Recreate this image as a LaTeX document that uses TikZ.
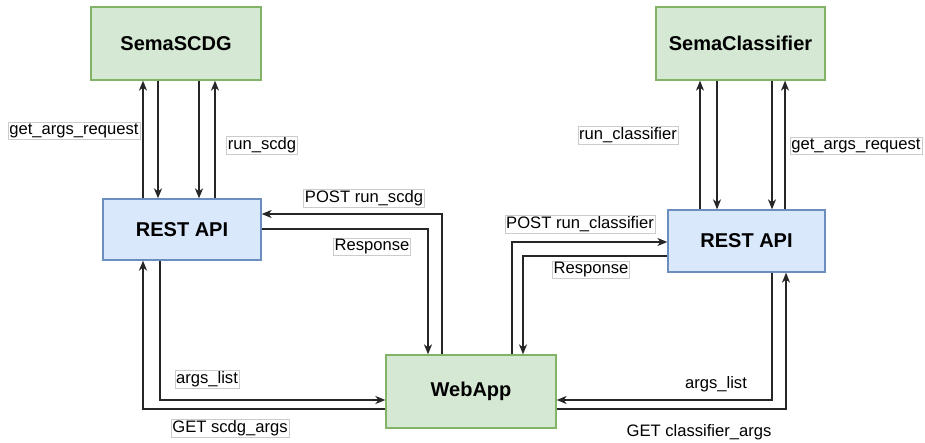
\documentclass[tikz,border=0pt]{standalone}
\usepackage{fontspec}
\setmainfont{Liberation Sans}
\usetikzlibrary{arrows.meta}
\definecolor{gfill}{HTML}{D5E8D4}
\definecolor{gline}{HTML}{82B366}
\definecolor{bfill}{HTML}{DAE8FC}
\definecolor{bline}{HTML}{6C8EBF}
\definecolor{wire}{HTML}{262626}
\tikzset{
  gbox/.style={draw=gline,fill=gfill,line width=1.3pt,minimum height=73pt,inner sep=0pt,font=\fontsize{20}{24}\selectfont\bfseries},
  bbox/.style={draw=bline,fill=bfill,line width=1.3pt,inner sep=0pt,font=\fontsize{20}{24}\selectfont\bfseries},
  wirearrow/.style={draw=wire,line width=1.3pt,-{Stealth[length=10pt,width=8pt,inset=3pt]}},
  lbl/.style={draw=black!20,fill=white,line width=0.6pt,inner sep=1.2pt,font=\fontsize{16.6}{19}\selectfont},
  lblplain/.style={inner sep=1.2pt,font=\fontsize{16.6}{19}\selectfont},
}
\begin{document}
\begin{tikzpicture}[x=1pt,y=-1pt]
\useasboundingbox[fill=white] (0,0) rectangle (925,443);
% boxes
\node[gbox,minimum width=170pt] (scdg) at (176,43.5) {SemaSCDG};
\node[gbox,minimum width=169pt] (scc) at (740.5,43.5) {SemaClassifier};
\node[bbox,minimum width=158pt,minimum height=61pt] (restL) at (182,229.5) {REST API};
\node[bbox,minimum width=157pt,minimum height=62pt] (restR) at (746.5,241) {REST API};
\node[gbox,minimum width=170pt] (web) at (471,391.5) {WebApp};
% left top
\draw[wirearrow] (restL.north -| 143,0) -- (scdg.south -| 143,0);
\draw[wirearrow] (scdg.south -| 158,0) -- (restL.north -| 158,0);
\draw[wirearrow] (scdg.south -| 199,0) -- (restL.north -| 199,0);
\draw[wirearrow] (restL.north -| 215,0) -- (scdg.south -| 215,0);
\node[lbl] (l1) at (74,131) {get\_args\_request};
\node[lbl] (l2) at (262,145) {run\_scdg};
% right top
\draw[wirearrow] (restR.north -| 700,0) -- (scc.south -| 700,0);
\draw[wirearrow] (scc.south -| 717,0) -- (restR.north -| 717,0);
\draw[wirearrow] (scc.south -| 772,0) -- (restR.north -| 772,0);
\draw[wirearrow] (restR.north -| 785,0) -- (scc.south -| 785,0);
\node[lbl] (l3) at (628,135) {run\_classifier};
\node[lbl] (l4) at (856,146) {get\_args\_request};
% middle left
\draw[wirearrow] (web.north -| 442,0) |- (restL.east |- 0,214);
\draw[wirearrow] (restL.east |- 0,229) -| (web.north -| 428,0);
\node[lbl] (l5) at (364,198) {POST run\_scdg};
\node[lbl] (l6) at (372,247) {Response};
% bottom left
\draw[wirearrow] (restL.south -| 160,0) |- (web.west |- 0,400);
\draw[wirearrow] (web.west |- 0,409) -| (restL.south -| 143,0);
\node[lbl] (l7) at (207,379) {args\_list};
\node[lbl] (l8) at (230,428) {GET scdg\_args};
% middle right
\draw[wirearrow] (web.north -| 512,0) |- (restR.west |- 0,242);
\draw[wirearrow] (restR.west |- 0,256) -| (web.north -| 523,0);
\node[lbl] (l9) at (580,224) {POST run\_classifier};
\node[lbl] (l10) at (591,270) {Response};
% bottom right
\draw[wirearrow] (restR.south -| 772,0) |- (web.east |- 0,400);
\draw[wirearrow] (web.east |- 0,409) -| (restR.south -| 786,0);
\node[lblplain] (l11) at (716,384) {args\_list};
\node[lblplain] (l12) at (699,432) {GET classifier\_args};
\end{tikzpicture}
\end{document}
